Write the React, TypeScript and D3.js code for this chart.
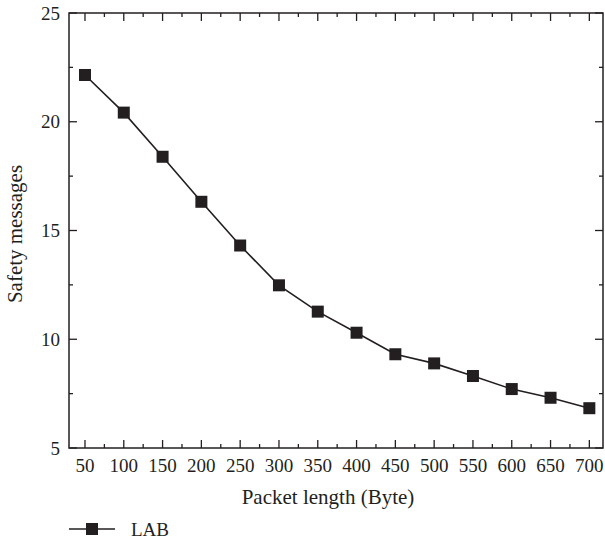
import React from "react";
import * as d3 from "d3";

const packetLengths = [50, 100, 150, 200, 250, 300, 350, 400, 450, 500, 550, 600, 650, 700];
const safetyMessages = [22.15, 20.42, 18.39, 16.32, 14.31, 12.48, 11.27, 10.3, 9.31, 8.89, 8.31, 7.71, 7.31, 6.83];
const xTicks = [50, 100, 150, 200, 250, 300, 350, 400, 450, 500, 550, 600, 650, 700];
const xMinorTicks = [75, 125, 175, 225, 275, 325, 375, 425, 475, 525, 575, 625, 675];
const yTicks = [5, 10, 15, 20, 25];
const yMinorTicks = [7.5, 12.5, 17.5, 22.5];
const seriesName = "LAB";

const W = 605;
const H = 544;
const L = 69, R = 603, T = 13, B = 448;
const FONT = "'Liberation Serif', 'DejaVu Serif', serif";
const INK = "#231f20";

export default function App() {
  const x = d3.scaleLinear().domain([29.4, 717.6]).range([L, R]);
  const y = d3.scaleLinear().domain([5, 25]).range([B, T]);
  const line = d3
    .line<number>()
    .x((_, i) => x(packetLengths[i]))
    .y((d) => y(d));
  const ms = 12;
  const major = 8;
  const minor = 4;
  return (
    <svg width={W} height={H} style={{ position: "absolute", left: 0, top: 0 }}>
      <rect x={0} y={0} width={W} height={H} fill="#fff" />
      {/* ticks */}
      <g stroke={INK} strokeWidth={1.3}>
        {xTicks.map((t) => (
          <g key={"xt" + t}>
            <line x1={x(t)} x2={x(t)} y1={B} y2={B - major} />
            <line x1={x(t)} x2={x(t)} y1={T} y2={T + major} />
          </g>
        ))}
        {xMinorTicks.map((t) => (
          <g key={"xm" + t}>
            <line x1={x(t)} x2={x(t)} y1={B} y2={B - minor} />
            <line x1={x(t)} x2={x(t)} y1={T} y2={T + minor} />
          </g>
        ))}
        {yTicks.map((t) => (
          <g key={"yt" + t}>
            <line x1={L} x2={L + major} y1={y(t)} y2={y(t)} />
            <line x1={R} x2={R - major} y1={y(t)} y2={y(t)} />
          </g>
        ))}
        {yMinorTicks.map((t) => (
          <g key={"ym" + t}>
            <line x1={L} x2={L + minor} y1={y(t)} y2={y(t)} />
            <line x1={R} x2={R - minor} y1={y(t)} y2={y(t)} />
          </g>
        ))}
      </g>
      <rect x={L} y={T} width={R - L} height={B - T} fill="none" stroke={INK} strokeWidth={1.5} />
      {/* tick labels */}
      <g fontFamily={FONT} fill={INK}>
        {xTicks.map((t) => (
          <text key={"xl" + t} x={x(t)} y={472} textAnchor="middle" fontSize={19}>
            {t}
          </text>
        ))}
        {yTicks.map((t) => (
          <text key={"yl" + t} x={60} y={y(t)} textAnchor="end" dominantBaseline="central" fontSize={19}>
            {t}
          </text>
        ))}
        <text x={328} y={504} textAnchor="middle" fontSize={21}>
          Packet length (Byte)
        </text>
        <text
          transform={`translate(22,${234}) rotate(-90)`}
          textAnchor="middle"
          fontSize={21}
        >
          Safety messages
        </text>
      </g>
      {/* series */}
      <path d={line(safetyMessages) || ""} fill="none" stroke={INK} strokeWidth={1.6} />
      {safetyMessages.map((v, i) => (
        <rect
          key={"m" + i}
          x={x(packetLengths[i]) - ms / 2}
          y={y(v) - ms / 2}
          width={ms}
          height={ms}
          fill={INK}
        />
      ))}
      {/* legend */}
      <line x1={69} x2={115} y1={529} y2={529} stroke={INK} strokeWidth={1.6} />
      <rect x={92 - ms / 2} y={529 - ms / 2} width={ms} height={ms} fill={INK} />
      <text x={131} y={536} fontFamily={FONT} fontSize={19} fill={INK}>
        {seriesName}
      </text>
    </svg>
  );
}
